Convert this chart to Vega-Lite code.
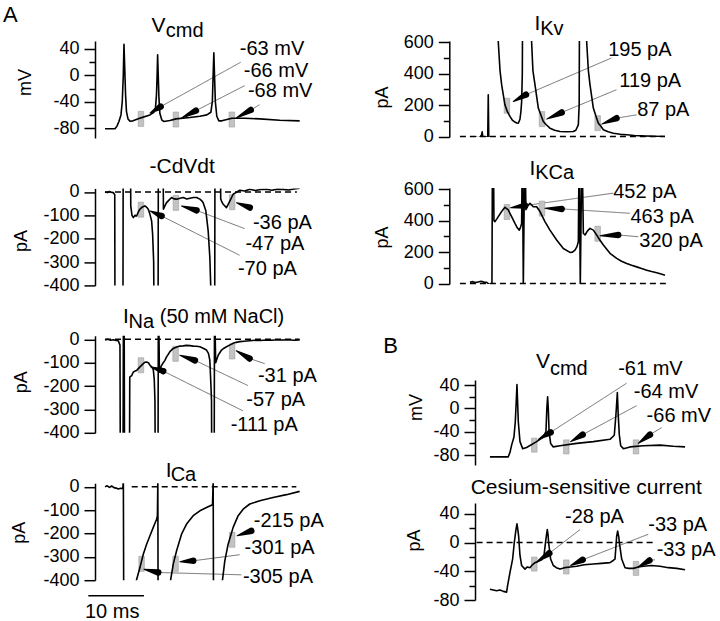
{
"$schema":"https://vega.github.io/schema/vega-lite/v6.json",
"background":"white",
"padding":{"left":3,"top":4,"right":5,"bottom":0},
"config":{"view":{"stroke":null},"font":"Liberation Sans",
"axis":{"domainColor":"black","domainWidth":1.5,"tickColor":"black","tickWidth":1.5,"labelColor":"black","labelFontSize":18,"labelPadding":5,"titleColor":"black","titleFontSize":18,"titleFontWeight":"normal","grid":false,"labelOverlap":false}},
"datasets":{
"traces":[
{"p":"A1","t":0,"v":-81},{"p":"A1","t":1.8,"v":-81},{"p":"A1","t":2.15,"v":-77},{"p":"A1","t":2.5,"v":-70},{"p":"A1","t":2.87,"v":-60},{"p":"A1","t":3.1,"v":-40},{"p":"A1","t":3.29,"v":0},{"p":"A1","t":3.41,"v":47},{"p":"A1","t":3.55,"v":10},{"p":"A1","t":3.7,"v":-30},{"p":"A1","t":3.86,"v":-55},{"p":"A1","t":4.13,"v":-66},{"p":"A1","t":4.49,"v":-69.5},{"p":"A1","t":5.03,"v":-69},{"p":"A1","t":6.46,"v":-64.5},{"p":"A1","t":8.08,"v":-60},{"p":"A1","t":8.8,"v":-56},{"p":"A1","t":9.07,"v":-50},{"p":"A1","t":9.25,"v":-30},{"p":"A1","t":9.37,"v":0},{"p":"A1","t":9.46,"v":31},{"p":"A1","t":9.57,"v":0},{"p":"A1","t":9.7,"v":-35},{"p":"A1","t":9.87,"v":-58},{"p":"A1","t":10.23,"v":-68},{"p":"A1","t":10.59,"v":-70},{"p":"A1","t":11.67,"v":-68.5},{"p":"A1","t":12.75,"v":-66},{"p":"A1","t":15.26,"v":-64},{"p":"A1","t":17.06,"v":-62},{"p":"A1","t":18.31,"v":-60},{"p":"A1","t":19.03,"v":-56},{"p":"A1","t":19.3,"v":-40},{"p":"A1","t":19.44,"v":0},{"p":"A1","t":19.57,"v":34},{"p":"A1","t":19.69,"v":0},{"p":"A1","t":19.84,"v":-40},{"p":"A1","t":20.1,"v":-62},{"p":"A1","t":20.47,"v":-69},{"p":"A1","t":21.0,"v":-69},{"p":"A1","t":22.8,"v":-65},{"p":"A1","t":25.13,"v":-65},{"p":"A1","t":27.83,"v":-66},{"p":"A1","t":31.42,"v":-68},{"p":"A1","t":35,"v":-69},
{"p":"A2","t":0,"v":0},{"p":"A2","t":0.4,"v":-3},{"p":"A2","t":0.8,"v":2},{"p":"A2","t":1.2,"v":-2},{"p":"A2","t":1.5,"v":-3},{"p":"A2","t":1.75,"v":-12},{"p":"A2","t":1.82,"v":-900},{"p":"A2","t":3.2,"v":-900},{"p":"A2","t":3.28,"v":300},{"p":"A2","t":4.56,"v":300},{"p":"A2","t":4.63,"v":-60},{"p":"A2","t":4.85,"v":-100},{"p":"A2","t":5.09,"v":-110},{"p":"A2","t":5.4,"v":-100},{"p":"A2","t":5.69,"v":-103},{"p":"A2","t":6.0,"v":-85},{"p":"A2","t":6.28,"v":-74},{"p":"A2","t":6.7,"v":-65},{"p":"A2","t":7.18,"v":-60},{"p":"A2","t":7.5,"v":-66},{"p":"A2","t":7.78,"v":-74},{"p":"A2","t":8.08,"v":-96},{"p":"A2","t":8.38,"v":-124},{"p":"A2","t":8.56,"v":-181},{"p":"A2","t":8.75,"v":-300},{"p":"A2","t":8.9,"v":-900},{"p":"A2","t":9.52,"v":-900},{"p":"A2","t":9.6,"v":300},{"p":"A2","t":10.42,"v":300},{"p":"A2","t":10.5,"v":-74},{"p":"A2","t":10.77,"v":-60},{"p":"A2","t":11.07,"v":-46},{"p":"A2","t":11.5,"v":-35},{"p":"A2","t":11.97,"v":-24},{"p":"A2","t":12.4,"v":-30},{"p":"A2","t":12.87,"v":-31},{"p":"A2","t":13.5,"v":-27},{"p":"A2","t":14.06,"v":-24},{"p":"A2","t":14.7,"v":-30},{"p":"A2","t":15.26,"v":-27},{"p":"A2","t":15.9,"v":-24},{"p":"A2","t":16.46,"v":-24},{"p":"A2","t":17.06,"v":-31},{"p":"A2","t":17.4,"v":-38},{"p":"A2","t":17.65,"v":-46},{"p":"A2","t":18.13,"v":-81},{"p":"A2","t":18.55,"v":-167},{"p":"A2","t":18.85,"v":-281},{"p":"A2","t":19.03,"v":-420},{"p":"A2","t":19.1,"v":-900},{"p":"A2","t":19.7,"v":-900},{"p":"A2","t":19.78,"v":300},{"p":"A2","t":20.72,"v":300},{"p":"A2","t":20.8,"v":-30},{"p":"A2","t":20.95,"v":-39},{"p":"A2","t":21.25,"v":-53},{"p":"A2","t":21.84,"v":-67},{"p":"A2","t":22.1,"v":-55},{"p":"A2","t":22.44,"v":-39},{"p":"A2","t":23.04,"v":-10},{"p":"A2","t":23.6,"v":-2},{"p":"A2","t":24.24,"v":7},{"p":"A2","t":25.1,"v":4},{"p":"A2","t":26.03,"v":11},{"p":"A2","t":27,"v":6},{"p":"A2","t":28,"v":10},{"p":"A2","t":29.03,"v":11},{"p":"A2","t":30,"v":7},{"p":"A2","t":31,"v":12},{"p":"A2","t":32,"v":11},{"p":"A2","t":33,"v":8},{"p":"A2","t":34,"v":13},{"p":"A2","t":35,"v":16},
{"p":"A3","t":0,"v":-3},{"p":"A3","t":0.5,"v":0},{"p":"A3","t":1.0,"v":-4},{"p":"A3","t":1.5,"v":-2},{"p":"A3","t":2.0,"v":-5},{"p":"A3","t":2.39,"v":-6},{"p":"A3","t":2.69,"v":-25},{"p":"A3","t":2.8,"v":-900},{"p":"A3","t":3.2,"v":-900},{"p":"A3","t":3.3,"v":30},{"p":"A3","t":3.45,"v":30},{"p":"A3","t":3.55,"v":-900},{"p":"A3","t":4.35,"v":-900},{"p":"A3","t":4.45,"v":-162},{"p":"A3","t":4.79,"v":-155},{"p":"A3","t":5.09,"v":-140},{"p":"A3","t":5.4,"v":-136},{"p":"A3","t":5.69,"v":-133},{"p":"A3","t":6.28,"v":-118},{"p":"A3","t":6.88,"v":-104},{"p":"A3","t":7.2,"v":-98},{"p":"A3","t":7.48,"v":-97},{"p":"A3","t":7.8,"v":-100},{"p":"A3","t":8.08,"v":-111},{"p":"A3","t":8.4,"v":-118},{"p":"A3","t":8.68,"v":-130},{"p":"A3","t":8.85,"v":-170},{"p":"A3","t":8.98,"v":-263},{"p":"A3","t":9.1,"v":-900},{"p":"A3","t":9.5,"v":-900},{"p":"A3","t":9.58,"v":30},{"p":"A3","t":9.7,"v":30},{"p":"A3","t":9.78,"v":-140},{"p":"A3","t":10.1,"v":-115},{"p":"A3","t":10.47,"v":-100},{"p":"A3","t":10.77,"v":-90},{"p":"A3","t":11.07,"v":-75},{"p":"A3","t":11.67,"v":-53},{"p":"A3","t":12.27,"v":-39},{"p":"A3","t":12.9,"v":-33},{"p":"A3","t":13.46,"v":-29},{"p":"A3","t":14.06,"v":-28},{"p":"A3","t":14.66,"v":-26},{"p":"A3","t":15.26,"v":-27},{"p":"A3","t":15.86,"v":-29},{"p":"A3","t":16.46,"v":-30},{"p":"A3","t":17.06,"v":-32},{"p":"A3","t":17.65,"v":-38},{"p":"A3","t":18.25,"v":-46},{"p":"A3","t":18.6,"v":-60},{"p":"A3","t":18.85,"v":-90},{"p":"A3","t":19.05,"v":-200},{"p":"A3","t":19.15,"v":-263},{"p":"A3","t":19.25,"v":-900},{"p":"A3","t":19.6,"v":-900},{"p":"A3","t":19.68,"v":30},{"p":"A3","t":19.8,"v":30},{"p":"A3","t":19.9,"v":-100},{"p":"A3","t":20.35,"v":-68},{"p":"A3","t":20.95,"v":-46},{"p":"A3","t":21.4,"v":-38},{"p":"A3","t":21.84,"v":-32},{"p":"A3","t":22.4,"v":-25},{"p":"A3","t":23.04,"v":-17},{"p":"A3","t":23.6,"v":-13},{"p":"A3","t":24.24,"v":-10},{"p":"A3","t":25,"v":-8},{"p":"A3","t":26,"v":-6},{"p":"A3","t":27,"v":-4},{"p":"A3","t":28,"v":-5},{"p":"A3","t":29,"v":-3},{"p":"A3","t":30,"v":-4},{"p":"A3","t":31,"v":-2},{"p":"A3","t":32,"v":-3},{"p":"A3","t":33,"v":-2},{"p":"A3","t":34,"v":-4},{"p":"A3","t":35,"v":-3},
{"p":"A4","t":0,"v":0},{"p":"A4","t":0.4,"v":4},{"p":"A4","t":0.8,"v":-3},{"p":"A4","t":1.2,"v":3},{"p":"A4","t":1.6,"v":-4},{"p":"A4","t":2.0,"v":-6},{"p":"A4","t":2.39,"v":-10},{"p":"A4","t":2.8,"v":-7},{"p":"A4","t":3.2,"v":-8},{"p":"A4","t":3.3,"v":25},{"p":"A4","t":3.41,"v":-900},{"p":"A4","t":5.55,"v":-900},{"p":"A4","t":5.65,"v":-400},{"p":"A4","t":6.28,"v":-346},{"p":"A4","t":6.88,"v":-289},{"p":"A4","t":7.48,"v":-246},{"p":"A4","t":8.08,"v":-210},{"p":"A4","t":8.68,"v":-174},{"p":"A4","t":9.28,"v":-139},{"p":"A4","t":9.42,"v":-125},{"p":"A4","t":9.5,"v":30},{"p":"A4","t":9.58,"v":-900},{"p":"A4","t":11.7,"v":-900},{"p":"A4","t":11.79,"v":-400},{"p":"A4","t":12.27,"v":-331},{"p":"A4","t":12.87,"v":-274},{"p":"A4","t":13.76,"v":-203},{"p":"A4","t":14.66,"v":-160},{"p":"A4","t":15.86,"v":-124},{"p":"A4","t":17.06,"v":-103},{"p":"A4","t":18.25,"v":-89},{"p":"A4","t":19.33,"v":-77},{"p":"A4","t":19.45,"v":30},{"p":"A4","t":19.55,"v":-900},{"p":"A4","t":21.05,"v":-900},{"p":"A4","t":21.12,"v":-400},{"p":"A4","t":21.54,"v":-317},{"p":"A4","t":22.14,"v":-246},{"p":"A4","t":23.04,"v":-174},{"p":"A4","t":23.94,"v":-124},{"p":"A4","t":24.84,"v":-96},{"p":"A4","t":26.03,"v":-74},{"p":"A4","t":27.83,"v":-60},{"p":"A4","t":30.22,"v":-46},{"p":"A4","t":32.62,"v":-34},{"p":"A4","t":35,"v":-20},
{"p":"IKv","s":"1","t":0,"v":-5},{"p":"IKv","s":"1","t":0.5,"v":-8},{"p":"IKv","s":"1","t":1.0,"v":-3},{"p":"IKv","s":"1","t":1.5,"v":-9},{"p":"IKv","s":"1","t":1.8,"v":-4},{"p":"IKv","s":"1","t":2.09,"v":10},{"p":"IKv","s":"1","t":2.2,"v":30},{"p":"IKv","s":"1","t":2.3,"v":-2},{"p":"IKv","s":"1","t":2.6,"v":-6},{"p":"IKv","s":"1","t":3.0,"v":-3},{"p":"IKv","s":"1","t":3.2,"v":-2},{"p":"IKv","s":"1","t":3.29,"v":266},{"p":"IKv","s":"1","t":3.38,"v":0},{"p":"IKv","s":"1","t":3.5,"v":-4},
{"p":"IKv","s":"2","t":5.0,"v":1200},{"p":"IKv","s":"2","t":5.09,"v":600},{"p":"IKv","s":"2","t":5.4,"v":420},{"p":"IKv","s":"2","t":5.69,"v":330},{"p":"IKv","s":"2","t":6.28,"v":202},{"p":"IKv","s":"2","t":6.7,"v":160},{"p":"IKv","s":"2","t":7.18,"v":128},{"p":"IKv","s":"2","t":7.6,"v":105},{"p":"IKv","s":"2","t":8.08,"v":92},{"p":"IKv","s":"2","t":8.4,"v":86},{"p":"IKv","s":"2","t":8.68,"v":85},{"p":"IKv","s":"2","t":8.98,"v":110},{"p":"IKv","s":"2","t":9.15,"v":160},{"p":"IKv","s":"2","t":9.28,"v":223},{"p":"IKv","s":"2","t":9.4,"v":400},{"p":"IKv","s":"2","t":9.5,"v":1200},{"p":"IKv","s":"2","t":11.0,"v":1200},{"p":"IKv","s":"2","t":11.07,"v":600},{"p":"IKv","s":"2","t":11.3,"v":420},{"p":"IKv","s":"2","t":11.67,"v":330},{"p":"IKv","s":"2","t":12.27,"v":181},{"p":"IKv","s":"2","t":12.7,"v":140},{"p":"IKv","s":"2","t":13.17,"v":96},{"p":"IKv","s":"2","t":13.7,"v":75},{"p":"IKv","s":"2","t":14.36,"v":53},{"p":"IKv","s":"2","t":15.2,"v":40},{"p":"IKv","s":"2","t":16.16,"v":32},{"p":"IKv","s":"2","t":17.4,"v":30},{"p":"IKv","s":"2","t":18.55,"v":32},{"p":"IKv","s":"2","t":19.0,"v":40},{"p":"IKv","s":"2","t":19.45,"v":74},{"p":"IKv","s":"2","t":19.6,"v":200},{"p":"IKv","s":"2","t":19.7,"v":1200},{"p":"IKv","s":"2","t":20.85,"v":1200},{"p":"IKv","s":"2","t":20.95,"v":600},{"p":"IKv","s":"2","t":21.25,"v":420},{"p":"IKv","s":"2","t":21.54,"v":330},{"p":"IKv","s":"2","t":22.14,"v":181},{"p":"IKv","s":"2","t":22.6,"v":130},{"p":"IKv","s":"2","t":23.04,"v":85},{"p":"IKv","s":"2","t":23.5,"v":65},{"p":"IKv","s":"2","t":23.94,"v":43},{"p":"IKv","s":"2","t":24.8,"v":30},{"p":"IKv","s":"2","t":25.73,"v":21},{"p":"IKv","s":"2","t":27,"v":14},{"p":"IKv","s":"2","t":28.13,"v":11},{"p":"IKv","s":"2","t":29.5,"v":7},{"p":"IKv","s":"2","t":31.12,"v":4},{"p":"IKv","s":"2","t":33,"v":2},{"p":"IKv","s":"2","t":35,"v":0},
{"p":"IKCa","t":0,"v":8},{"p":"IKCa","t":0.5,"v":12},{"p":"IKCa","t":1.0,"v":6},{"p":"IKCa","t":1.5,"v":10},{"p":"IKCa","t":2.0,"v":14},{"p":"IKCa","t":2.5,"v":9},{"p":"IKCa","t":2.99,"v":8},{"p":"IKCa","t":3.59,"v":-8},{"p":"IKCa","t":3.95,"v":-10},{"p":"IKCa","t":4.05,"v":900},{"p":"IKCa","t":4.2,"v":900},{"p":"IKCa","t":4.31,"v":400},{"p":"IKCa","t":4.49,"v":394},{"p":"IKCa","t":4.8,"v":410},{"p":"IKCa","t":5.09,"v":426},{"p":"IKCa","t":5.69,"v":458},{"p":"IKCa","t":6.28,"v":485},{"p":"IKCa","t":6.88,"v":468},{"p":"IKCa","t":7.48,"v":426},{"p":"IKCa","t":8.08,"v":383},{"p":"IKCa","t":8.5,"v":355},{"p":"IKCa","t":8.86,"v":340},{"p":"IKCa","t":9.1,"v":360},{"p":"IKCa","t":9.28,"v":383},{"p":"IKCa","t":9.4,"v":900},{"p":"IKCa","t":9.58,"v":-15},{"p":"IKCa","t":9.85,"v":900},{"p":"IKCa","t":10.05,"v":470},{"p":"IKCa","t":10.47,"v":500},{"p":"IKCa","t":10.77,"v":511},{"p":"IKCa","t":11.37,"v":489},{"p":"IKCa","t":11.97,"v":489},{"p":"IKCa","t":12.57,"v":458},{"p":"IKCa","t":13.46,"v":394},{"p":"IKCa","t":14.36,"v":340},{"p":"IKCa","t":15.56,"v":277},{"p":"IKCa","t":16.76,"v":223},{"p":"IKCa","t":17.95,"v":198},{"p":"IKCa","t":18.4,"v":200},{"p":"IKCa","t":18.85,"v":213},{"p":"IKCa","t":19.2,"v":235},{"p":"IKCa","t":19.45,"v":266},{"p":"IKCa","t":19.6,"v":900},{"p":"IKCa","t":19.8,"v":-15},{"p":"IKCa","t":20.1,"v":900},{"p":"IKCa","t":20.35,"v":320},{"p":"IKCa","t":20.65,"v":309},{"p":"IKCa","t":21.1,"v":335},{"p":"IKCa","t":21.54,"v":351},{"p":"IKCa","t":22.14,"v":340},{"p":"IKCa","t":22.74,"v":309},{"p":"IKCa","t":23.34,"v":275},{"p":"IKCa","t":23.94,"v":245},{"p":"IKCa","t":25.13,"v":192},{"p":"IKCa","t":26.33,"v":160},{"p":"IKCa","t":27.2,"v":142},{"p":"IKCa","t":28.13,"v":128},{"p":"IKCa","t":29.0,"v":116},{"p":"IKCa","t":29.92,"v":106},{"p":"IKCa","t":30.8,"v":95},{"p":"IKCa","t":31.72,"v":85},{"p":"IKCa","t":32.6,"v":76},{"p":"IKCa","t":33.52,"v":68},{"p":"IKCa","t":34.3,"v":60},{"p":"IKCa","t":35,"v":53},
{"p":"BV","t":3.59,"v":-83},{"p":"BV","t":6.88,"v":-83},{"p":"BV","t":7.2,"v":-75},{"p":"BV","t":7.48,"v":-63},{"p":"BV","t":7.9,"v":-49},{"p":"BV","t":8.14,"v":-23},{"p":"BV","t":8.3,"v":10},{"p":"BV","t":8.44,"v":41},{"p":"BV","t":8.56,"v":10},{"p":"BV","t":8.68,"v":-23},{"p":"BV","t":8.98,"v":-57},{"p":"BV","t":9.46,"v":-69},{"p":"BV","t":10.17,"v":-67},{"p":"BV","t":11.97,"v":-57},{"p":"BV","t":13.17,"v":-49},{"p":"BV","t":13.64,"v":-40},{"p":"BV","t":13.8,"v":0},{"p":"BV","t":13.94,"v":20},{"p":"BV","t":14.06,"v":0},{"p":"BV","t":14.2,"v":-40},{"p":"BV","t":14.48,"v":-60},{"p":"BV","t":14.96,"v":-66},{"p":"BV","t":16.16,"v":-64},{"p":"BV","t":19.15,"v":-60},{"p":"BV","t":22.14,"v":-57},{"p":"BV","t":25.13,"v":-53},{"p":"BV","t":25.9,"v":-46},{"p":"BV","t":26.2,"v":-10},{"p":"BV","t":26.45,"v":27},{"p":"BV","t":26.6,"v":-10},{"p":"BV","t":26.8,"v":-45},{"p":"BV","t":27.05,"v":-64},{"p":"BV","t":27.53,"v":-69},{"p":"BV","t":28.73,"v":-66},{"p":"BV","t":31.12,"v":-64},{"p":"BV","t":34.11,"v":-63},{"p":"BV","t":36.5,"v":-65},{"p":"BV","t":38.6,"v":-66},
{"p":"Cs","t":3.59,"v":-65},{"p":"Cs","t":4.2,"v":-66},{"p":"Cs","t":4.79,"v":-67},{"p":"Cs","t":5.4,"v":-66},{"p":"Cs","t":6.0,"v":-68},{"p":"Cs","t":6.58,"v":-69},{"p":"Cs","t":6.76,"v":-60},{"p":"Cs","t":7.18,"v":-42},{"p":"Cs","t":7.66,"v":-23},{"p":"Cs","t":7.96,"v":0},{"p":"Cs","t":8.26,"v":18},{"p":"Cs","t":8.44,"v":26},{"p":"Cs","t":8.56,"v":20},{"p":"Cs","t":8.74,"v":9},{"p":"Cs","t":8.98,"v":-18},{"p":"Cs","t":9.28,"v":-32},{"p":"Cs","t":9.87,"v":-37},{"p":"Cs","t":10.3,"v":-34},{"p":"Cs","t":10.77,"v":-35},{"p":"Cs","t":11.2,"v":-31},{"p":"Cs","t":11.67,"v":-28},{"p":"Cs","t":12.1,"v":-27},{"p":"Cs","t":12.57,"v":-25},{"p":"Cs","t":12.9,"v":-24},{"p":"Cs","t":13.29,"v":-18},{"p":"Cs","t":13.64,"v":5},{"p":"Cs","t":13.88,"v":18},{"p":"Cs","t":14.0,"v":12},{"p":"Cs","t":14.12,"v":0},{"p":"Cs","t":14.48,"v":-23},{"p":"Cs","t":14.96,"v":-32},{"p":"Cs","t":15.5,"v":-35},{"p":"Cs","t":16.16,"v":-37},{"p":"Cs","t":17.0,"v":-35},{"p":"Cs","t":18.0,"v":-34},{"p":"Cs","t":19.15,"v":-33},{"p":"Cs","t":20.5,"v":-31},{"p":"Cs","t":22.14,"v":-30},{"p":"Cs","t":23.6,"v":-29},{"p":"Cs","t":25.13,"v":-28},{"p":"Cs","t":25.7,"v":-25},{"p":"Cs","t":26.03,"v":-23},{"p":"Cs","t":26.33,"v":9},{"p":"Cs","t":26.51,"v":16},{"p":"Cs","t":26.7,"v":8},{"p":"Cs","t":26.81,"v":0},{"p":"Cs","t":27.23,"v":-23},{"p":"Cs","t":27.83,"v":-35},{"p":"Cs","t":28.5,"v":-36},{"p":"Cs","t":29.32,"v":-36},{"p":"Cs","t":30.2,"v":-34},{"p":"Cs","t":31.12,"v":-33},{"p":"Cs","t":32.6,"v":-32},{"p":"Cs","t":34.11,"v":-33},{"p":"Cs","t":35.6,"v":-35},{"p":"Cs","t":37.1,"v":-36},{"p":"Cs","t":38.6,"v":-38}
],
"boxes":[
{"p":"A1","t":6.46,"v":-66},{"p":"A1","t":12.75,"v":-67},{"p":"A1","t":22.8,"v":-67},
{"p":"A2","t":6.46,"v":-76},{"p":"A2","t":12.75,"v":-47},{"p":"A2","t":22.86,"v":-44},
{"p":"A3","t":6.46,"v":-111},{"p":"A3","t":12.69,"v":-62},{"p":"A3","t":22.86,"v":-52},
{"p":"A4","t":6.58,"v":-330},{"p":"A4","t":12.69,"v":-330},{"p":"A4","t":22.86,"v":-227},
{"p":"IKv","t":6.64,"v":196},{"p":"IKv","t":12.93,"v":111},{"p":"IKv","t":22.92,"v":85},
{"p":"IKCa","t":6.64,"v":455},{"p":"IKCa","t":12.93,"v":477},{"p":"IKCa","t":22.92,"v":317},
{"p":"BV","t":11.55,"v":-63},{"p":"BV","t":17.29,"v":-66},{"p":"BV","t":29.8,"v":-66},
{"p":"Cs","t":11.55,"v":-30},{"p":"Cs","t":17.29,"v":-34},{"p":"Cs","t":29.8,"v":-36}
],
"arrows":[
{"p":"A1","id":"1","r":"tip","t":8.08,"v":-57.2},{"p":"A1","id":"1","r":"base","t":10.0,"v":-47.5},{"p":"A1","id":"2","r":"tip","t":13.77,"v":-64.7},{"p":"A1","id":"2","r":"base","t":16.34,"v":-53.6},{"p":"A1","id":"3","r":"tip","t":23.6,"v":-64.7},{"p":"A1","id":"3","r":"base","t":26.2,"v":-52.6},
{"p":"A2","id":"1","r":"tip","t":8.08,"v":-81},{"p":"A2","id":"1","r":"base","t":10.17,"v":-103},{"p":"A2","id":"2","r":"tip","t":13.76,"v":-60},{"p":"A2","id":"2","r":"base","t":16.46,"v":-79},{"p":"A2","id":"3","r":"tip","t":23.64,"v":-46},{"p":"A2","id":"3","r":"base","t":26.03,"v":-67},
{"p":"A3","id":"1","r":"tip","t":8.2,"v":-118},{"p":"A3","id":"1","r":"base","t":10.47,"v":-136},{"p":"A3","id":"2","r":"tip","t":13.46,"v":-68},{"p":"A3","id":"2","r":"base","t":16.16,"v":-90},{"p":"A3","id":"3","r":"tip","t":23.6,"v":-49},{"p":"A3","id":"3","r":"base","t":26.0,"v":-82},
{"p":"A4","id":"1","r":"tip","t":7.0,"v":-353},{"p":"A4","id":"1","r":"base","t":9.57,"v":-367},{"p":"A4","id":"2","r":"tip","t":13.46,"v":-321},{"p":"A4","id":"2","r":"base","t":15.86,"v":-317},{"p":"A4","id":"3","r":"tip","t":23.76,"v":-210},{"p":"A4","id":"3","r":"base","t":26.3,"v":-189},
{"p":"IKv","id":"1","r":"tip","t":7.78,"v":223},{"p":"IKv","id":"1","r":"base","t":10.05,"v":266},{"p":"IKv","id":"2","r":"tip","t":13.76,"v":111},{"p":"IKv","id":"2","r":"base","t":16.46,"v":153},{"p":"IKv","id":"3","r":"tip","t":23.64,"v":79},{"p":"IKv","id":"3","r":"base","t":26.3,"v":117},
{"p":"IKCa","id":"1","r":"tip","t":7.3,"v":483},{"p":"IKCa","id":"1","r":"base","t":9.87,"v":496},{"p":"IKCa","id":"2","r":"tip","t":13.46,"v":479},{"p":"IKCa","id":"2","r":"base","t":16.46,"v":475},{"p":"IKCa","id":"3","r":"tip","t":23.34,"v":304},{"p":"IKCa","id":"3","r":"base","t":26.6,"v":309},
{"p":"BV","id":"1","r":"tip","t":12.27,"v":-53},{"p":"BV","id":"1","r":"base","t":14.48,"v":-41},{"p":"BV","id":"2","r":"tip","t":18.07,"v":-57},{"p":"BV","id":"2","r":"base","t":20.23,"v":-45},{"p":"BV","id":"3","r":"tip","t":30.2,"v":-60},{"p":"BV","id":"3","r":"base","t":32.3,"v":-45},
{"p":"Cs","id":"1","r":"tip","t":11.97,"v":-27},{"p":"Cs","id":"1","r":"base","t":14.24,"v":-15},{"p":"Cs","id":"2","r":"tip","t":18.07,"v":-32},{"p":"Cs","id":"2","r":"base","t":20.23,"v":-24},{"p":"Cs","id":"3","r":"tip","t":30.2,"v":-34},{"p":"Cs","id":"3","r":"base","t":32.2,"v":-25}
],
"rules":[
{"p":"A1","k":"ann","t":10.0,"v":-47.5,"t2":24.4,"v2":19.8},{"p":"A1","k":"ann","t":16.34,"v":-53.6,"t2":25.1,"v2":-15.7},{"p":"A1","k":"ann","t":26.2,"v":-52.6,"t2":27.8,"v2":-44.5},
{"p":"A2","k":"zero","t":0,"v":0,"t2":34.5,"v2":0},{"p":"A2","k":"ann","t":10.17,"v":-103,"t2":24.2,"v2":-271},{"p":"A2","k":"ann","t":16.46,"v":-79,"t2":25.1,"v2":-157},
{"p":"A3","k":"zero","t":0,"v":0,"t2":35,"v2":0},{"p":"A3","k":"ann","t":10.47,"v":-136,"t2":24.8,"v2":-306},{"p":"A3","k":"ann","t":16.16,"v":-90,"t2":25.7,"v2":-198},{"p":"A3","k":"ann","t":26.0,"v":-82,"t2":28.7,"v2":-104},
{"p":"A4","k":"zero","t":4.8,"v":0,"t2":34.4,"v2":0},{"p":"A4","k":"ann","t":9.57,"v":-367,"t2":24.5,"v2":-377},{"p":"A4","k":"ann","t":15.86,"v":-317,"t2":24.2,"v2":-291},{"p":"A4","k":"bar","t":-3.0,"v":-466,"t2":7.0,"v2":-466},
{"p":"IKv","k":"zero","t":-1.8,"v":0,"t2":35,"v2":0},{"p":"IKv","k":"ann","t":10.05,"v":266,"t2":25.4,"v2":500},{"p":"IKv","k":"ann","t":16.46,"v":153,"t2":26.3,"v2":298},{"p":"IKv","k":"ann","t":26.3,"v":117,"t2":29.9,"v2":138},
{"p":"IKCa","k":"zero","t":-1.8,"v":0,"t2":35.3,"v2":0},{"p":"IKCa","k":"ann","t":9.87,"v":496,"t2":25.7,"v2":575},{"p":"IKCa","k":"ann","t":16.46,"v":475,"t2":28.7,"v2":447},{"p":"IKCa","k":"ann","t":26.6,"v":309,"t2":30.2,"v2":298},
{"p":"BV","k":"ann","t":14.48,"v":-41,"t2":28.1,"v2":43},{"p":"BV","k":"ann","t":20.23,"v":-45,"t2":29.9,"v2":4.6},{"p":"BV","k":"ann","t":32.3,"v":-45,"t2":34.4,"v2":-33},
{"p":"Cs","k":"zero","t":1.2,"v":0,"t2":32.9,"v2":0},{"p":"Cs","k":"ann","t":14.24,"v":-15,"t2":19.75,"v2":18},{"p":"Cs","k":"ann","t":20.23,"v":-24,"t2":32.0,"v2":11.5},{"p":"Cs","k":"ann","t":32.2,"v":-25,"t2":33.2,"v2":-24}
],
"labels":[
{"p":"A1","k":"letter","t":-18.34,"v":80.3,"txt":"A"},{"p":"A1","k":"title","t":8.38,"v":65.1,"txt":"V"},{"p":"A1","k":"sub","t":10.93,"v":57.5,"txt":"cmd"},{"p":"A1","k":"note","t":24.24,"v":31.4,"txt":"-63 mV"},{"p":"A1","k":"note","t":24.96,"v":-3,"txt":"-66 mV"},{"p":"A1","k":"note","t":25.7,"v":-33.4,"txt":"-68 mV"},
{"p":"A2","k":"title","t":8.0,"v":79,"txt":"-CdVdt"},{"p":"A2","k":"note","t":26.6,"v":-160,"txt":"-36 pA"},{"p":"A2","k":"note","t":25.25,"v":-249,"txt":"-47 pA"},{"p":"A2","k":"note","t":23.9,"v":-356,"txt":"-70 pA"},
{"p":"A3","k":"title","t":3.23,"v":69,"txt":"I"},{"p":"A3","k":"sub","t":4.22,"v":48,"txt":"Na"},{"p":"A3","k":"sub","t":9.84,"v":69,"txt":"(50 mM NaCl)"},{"p":"A3","k":"note","t":27.5,"v":-183,"txt":"-31 pA"},{"p":"A3","k":"note","t":25.4,"v":-284,"txt":"-57 pA"},{"p":"A3","k":"note","t":22.6,"v":-393,"txt":"-111 pA"},
{"p":"A4","k":"title","t":10.9,"v":40,"txt":"I"},{"p":"A4","k":"sub","t":11.8,"v":23,"txt":"Ca"},{"p":"A4","k":"note","t":26.75,"v":-171,"txt":"-215 pA"},{"p":"A4","k":"note","t":25.1,"v":-289,"txt":"-301 pA"},{"p":"A4","k":"note","t":24.8,"v":-410,"txt":"-305 pA"},{"p":"A4","k":"note","t":-3.6,"v":-561,"txt":"10 ms"},
{"p":"IKv","k":"title","t":11.6,"v":681,"txt":"I"},{"p":"IKv","k":"sub","t":12.6,"v":649,"txt":"Kv"},{"p":"IKv","k":"note","t":24.8,"v":511,"txt":"195 pA"},{"p":"IKv","k":"note","t":26.8,"v":313,"txt":"119 pA"},{"p":"IKv","k":"note","t":30.0,"v":128,"txt":"87 pA"},
{"p":"IKCa","k":"title","t":10.7,"v":692,"txt":"I"},{"p":"IKCa","k":"sub","t":11.7,"v":666,"txt":"KCa"},{"p":"IKCa","k":"note","t":25.7,"v":543,"txt":"452 pA"},{"p":"IKCa","k":"note","t":28.8,"v":383,"txt":"463 pA"},{"p":"IKCa","k":"note","t":30.4,"v":234,"txt":"320 pA"},
{"p":"BV","k":"letter","t":-15.55,"v":94.2,"txt":"B"},{"p":"BV","k":"title","t":11.85,"v":68.5,"txt":"V"},{"p":"BV","k":"sub","t":14.35,"v":57,"txt":"cmd"},{"p":"BV","k":"note","t":26.6,"v":57,"txt":"-61 mV"},{"p":"BV","k":"note","t":29.4,"v":18,"txt":"-64 mV"},{"p":"BV","k":"note","t":31.7,"v":-23,"txt":"-66 mV"},
{"p":"Cs","k":"title","t":0.13,"v":67,"txt":"Cesium-sensitive current"},{"p":"Cs","k":"note","t":17.06,"v":26.7,"txt":"-28 pA"},{"p":"Cs","k":"note","t":32.0,"v":16.2,"txt":"-33 pA"},{"p":"Cs","k":"note","t":33.5,"v":-18.4,"txt":"-33 pA"}
]
},
"hconcat":[
{"vconcat":[
{"width":208,"height":97,
"encoding":{"x":{"field":"t","type":"quantitative","scale":{"domain":[-1.8,35.6],"nice":false,"zero":false},"axis":null},
"y":{"field":"v","type":"quantitative","scale":{"domain":[-95,52],"nice":false,"zero":false},"axis":{"title":"mV","values":[-80,-60,-40,-20,0,20,40],"labelExpr":"datum.value % 40 === 0 ? '' + datum.value : ''","tickSize":{"condition":{"test":"datum.value % 40 === 0","value":11},"value":6},"titleX":-61,"titleY":41}}},
"layer":[
{"data":{"name":"rules"},"transform":[{"filter":"datum.p==='A1'"}],"mark":{"type":"rule"},"encoding":{"x2":{"field":"t2"},"y2":{"field":"v2"},"color":{"condition":{"test":"datum.k==='ann'","value":"#4d4d4d"},"value":"black"},"strokeWidth":{"condition":{"test":"datum.k==='ann'","value":0.8},"value":1.5},"strokeDash":{"condition":{"test":"datum.k==='zero'","value":[6,4]},"value":[1,0]}}},
{"data":{"name":"boxes"},"transform":[{"filter":"datum.p==='A1'"}],"mark":{"type":"tick","orient":"vertical","thickness":5.5,"size":15,"color":"#c3c3c3","opacity":1,"stroke":"#9c9c9c","strokeWidth":0.6}},
{"data":{"name":"traces"},"transform":[{"filter":"datum.p==='A1'"}],"mark":{"type":"line","color":"black","strokeWidth":1.6,"clip":true,"strokeJoin":"round"},"encoding":{"detail":{"field":"s","type":"nominal"}}},
{"data":{"name":"arrows"},"transform":[{"filter":"datum.p==='A1'"}],"mark":{"type":"trail","color":"black"},"encoding":{"detail":{"field":"id","type":"nominal"},"size":{"condition":{"test":"datum.r==='tip'","value":0},"value":6.5}}},
{"data":{"name":"labels"},"transform":[{"filter":"datum.p==='A1'"}],"mark":{"type":"text","align":"left","baseline":"alphabetic","color":"black"},"encoding":{"text":{"field":"txt","type":"nominal"},"size":{"condition":[{"test":"datum.k==='title'","value":21},{"test":"datum.k==='letter'","value":22}],"value":20}}}
]},
{"width":208,"height":97,
"encoding":{"x":{"field":"t","type":"quantitative","scale":{"domain":[-1.8,35.6],"nice":false,"zero":false},"axis":null},
"y":{"field":"v","type":"quantitative","scale":{"domain":[-400,15],"nice":false,"zero":false},"axis":{"title":"pA","values":[-400,-300,-200,-100,0],"labelExpr":"'' + datum.value","tickSize":11,"titleX":-65,"titleY":52}}},
"layer":[
{"data":{"name":"rules"},"transform":[{"filter":"datum.p==='A2'"}],"mark":{"type":"rule"},"encoding":{"x2":{"field":"t2"},"y2":{"field":"v2"},"color":{"condition":{"test":"datum.k==='ann'","value":"#4d4d4d"},"value":"black"},"strokeWidth":{"condition":{"test":"datum.k==='ann'","value":0.8},"value":1.5},"strokeDash":{"condition":{"test":"datum.k==='zero'","value":[6,4]},"value":[1,0]}}},
{"data":{"name":"boxes"},"transform":[{"filter":"datum.p==='A2'"}],"mark":{"type":"tick","orient":"vertical","thickness":5.5,"size":15,"color":"#c3c3c3","opacity":1,"stroke":"#9c9c9c","strokeWidth":0.6}},
{"data":{"name":"traces"},"transform":[{"filter":"datum.p==='A2'"}],"mark":{"type":"line","color":"black","strokeWidth":1.6,"clip":true,"strokeJoin":"round"},"encoding":{"detail":{"field":"s","type":"nominal"}}},
{"data":{"name":"arrows"},"transform":[{"filter":"datum.p==='A2'"}],"mark":{"type":"trail","color":"black"},"encoding":{"detail":{"field":"id","type":"nominal"},"size":{"condition":{"test":"datum.r==='tip'","value":0},"value":6.5}}},
{"data":{"name":"labels"},"transform":[{"filter":"datum.p==='A2'"}],"mark":{"type":"text","align":"left","baseline":"alphabetic","color":"black"},"encoding":{"text":{"field":"txt","type":"nominal"},"size":{"condition":[{"test":"datum.k==='title'","value":21},{"test":"datum.k==='letter'","value":22}],"value":20}}}
]},
{"width":208,"height":97,
"encoding":{"x":{"field":"t","type":"quantitative","scale":{"domain":[-1.8,35.6],"nice":false,"zero":false},"axis":null},
"y":{"field":"v","type":"quantitative","scale":{"domain":[-400,15],"nice":false,"zero":false},"axis":{"title":"pA","values":[-400,-300,-200,-100,0],"labelExpr":"'' + datum.value","tickSize":11,"titleX":-65,"titleY":46}}},
"layer":[
{"data":{"name":"rules"},"transform":[{"filter":"datum.p==='A3'"}],"mark":{"type":"rule"},"encoding":{"x2":{"field":"t2"},"y2":{"field":"v2"},"color":{"condition":{"test":"datum.k==='ann'","value":"#4d4d4d"},"value":"black"},"strokeWidth":{"condition":{"test":"datum.k==='ann'","value":0.8},"value":1.5},"strokeDash":{"condition":{"test":"datum.k==='zero'","value":[6,4]},"value":[1,0]}}},
{"data":{"name":"boxes"},"transform":[{"filter":"datum.p==='A3'"}],"mark":{"type":"tick","orient":"vertical","thickness":5.5,"size":15,"color":"#c3c3c3","opacity":1,"stroke":"#9c9c9c","strokeWidth":0.6}},
{"data":{"name":"traces"},"transform":[{"filter":"datum.p==='A3'"}],"mark":{"type":"line","color":"black","strokeWidth":1.6,"clip":true,"strokeJoin":"round"},"encoding":{"detail":{"field":"s","type":"nominal"}}},
{"data":{"name":"arrows"},"transform":[{"filter":"datum.p==='A3'"}],"mark":{"type":"trail","color":"black"},"encoding":{"detail":{"field":"id","type":"nominal"},"size":{"condition":{"test":"datum.r==='tip'","value":0},"value":6.5}}},
{"data":{"name":"labels"},"transform":[{"filter":"datum.p==='A3'"}],"mark":{"type":"text","align":"left","baseline":"alphabetic","color":"black"},"encoding":{"text":{"field":"txt","type":"nominal"},"size":{"condition":[{"test":"datum.k==='title'","value":21},{"test":"datum.k==='letter'","value":22}],"value":20}}}
]},
{"width":208,"height":97,
"encoding":{"x":{"field":"t","type":"quantitative","scale":{"domain":[-1.8,35.6],"nice":false,"zero":false},"axis":null},
"y":{"field":"v","type":"quantitative","scale":{"domain":[-400,15],"nice":false,"zero":false},"axis":{"title":"pA","values":[-400,-300,-200,-100,0],"labelExpr":"'' + datum.value","tickSize":11,"titleX":-67,"titleY":49}}},
"layer":[
{"data":{"name":"rules"},"transform":[{"filter":"datum.p==='A4'"}],"mark":{"type":"rule"},"encoding":{"x2":{"field":"t2"},"y2":{"field":"v2"},"color":{"condition":{"test":"datum.k==='ann'","value":"#4d4d4d"},"value":"black"},"strokeWidth":{"condition":{"test":"datum.k==='ann'","value":0.8},"value":1.5},"strokeDash":{"condition":{"test":"datum.k==='zero'","value":[6,4]},"value":[1,0]}}},
{"data":{"name":"boxes"},"transform":[{"filter":"datum.p==='A4'"}],"mark":{"type":"tick","orient":"vertical","thickness":5.5,"size":15,"color":"#c3c3c3","opacity":1,"stroke":"#9c9c9c","strokeWidth":0.6}},
{"data":{"name":"traces"},"transform":[{"filter":"datum.p==='A4'"}],"mark":{"type":"line","color":"black","strokeWidth":1.6,"clip":true,"strokeJoin":"round"},"encoding":{"detail":{"field":"s","type":"nominal"}}},
{"data":{"name":"arrows"},"transform":[{"filter":"datum.p==='A4'"}],"mark":{"type":"trail","color":"black"},"encoding":{"detail":{"field":"id","type":"nominal"},"size":{"condition":{"test":"datum.r==='tip'","value":0},"value":6.5}}},
{"data":{"name":"labels"},"transform":[{"filter":"datum.p==='A4'"}],"mark":{"type":"text","align":"left","baseline":"alphabetic","color":"black"},"encoding":{"text":{"field":"txt","type":"nominal"},"size":{"condition":[{"test":"datum.k==='title'","value":21},{"test":"datum.k==='letter'","value":22}],"value":20}}}
]}
],"spacing":50.4,"bounds":"flush"},
{"vconcat":[
{"width":238,"height":96,
"encoding":{"x":{"field":"t","type":"quantitative","scale":{"domain":[-3.7,39],"nice":false,"zero":false},"axis":null},
"y":{"field":"v","type":"quantitative","scale":{"domain":[-3,608],"nice":false,"zero":false},"axis":{"title":"pA","values":[0,100,200,300,400,500,600],"labelExpr":"datum.value % 200 === 0 ? '' + datum.value : ''","tickSize":{"condition":{"test":"datum.value % 200 === 0","value":11},"value":6},"titleX":-57.6,"titleY":56}}},
"layer":[
{"data":{"name":"rules"},"transform":[{"filter":"datum.p==='IKv'"}],"mark":{"type":"rule"},"encoding":{"x2":{"field":"t2"},"y2":{"field":"v2"},"color":{"condition":{"test":"datum.k==='ann'","value":"#4d4d4d"},"value":"black"},"strokeWidth":{"condition":{"test":"datum.k==='ann'","value":0.8},"value":1.5},"strokeDash":{"condition":{"test":"datum.k==='zero'","value":[6,4]},"value":[1,0]}}},
{"data":{"name":"boxes"},"transform":[{"filter":"datum.p==='IKv'"}],"mark":{"type":"tick","orient":"vertical","thickness":5.5,"size":15,"color":"#c3c3c3","opacity":1,"stroke":"#9c9c9c","strokeWidth":0.6}},
{"data":{"name":"traces"},"transform":[{"filter":"datum.p==='IKv'"}],"mark":{"type":"line","color":"black","strokeWidth":1.6,"clip":true,"strokeJoin":"round"},"encoding":{"detail":{"field":"s","type":"nominal"}}},
{"data":{"name":"arrows"},"transform":[{"filter":"datum.p==='IKv'"}],"mark":{"type":"trail","color":"black"},"encoding":{"detail":{"field":"id","type":"nominal"},"size":{"condition":{"test":"datum.r==='tip'","value":0},"value":6.5}}},
{"data":{"name":"labels"},"transform":[{"filter":"datum.p==='IKv'"}],"mark":{"type":"text","align":"left","baseline":"alphabetic","color":"black"},"encoding":{"text":{"field":"txt","type":"nominal"},"size":{"condition":[{"test":"datum.k==='title'","value":21},{"test":"datum.k==='letter'","value":22}],"value":20}}}
]},
{"width":238,"height":50.7,"data":{"values":[]},"mark":"point"},
{"width":238,"height":96,
"encoding":{"x":{"field":"t","type":"quantitative","scale":{"domain":[-3.7,39],"nice":false,"zero":false},"axis":null},
"y":{"field":"v","type":"quantitative","scale":{"domain":[-3,608],"nice":false,"zero":false},"axis":{"title":"pA","values":[0,100,200,300,400,500,600],"labelExpr":"datum.value % 200 === 0 ? '' + datum.value : ''","tickSize":{"condition":{"test":"datum.value % 200 === 0","value":11},"value":6},"titleX":-57.6,"titleY":49}}},
"layer":[
{"data":{"name":"rules"},"transform":[{"filter":"datum.p==='IKCa'"}],"mark":{"type":"rule"},"encoding":{"x2":{"field":"t2"},"y2":{"field":"v2"},"color":{"condition":{"test":"datum.k==='ann'","value":"#4d4d4d"},"value":"black"},"strokeWidth":{"condition":{"test":"datum.k==='ann'","value":0.8},"value":1.5},"strokeDash":{"condition":{"test":"datum.k==='zero'","value":[6,4]},"value":[1,0]}}},
{"data":{"name":"boxes"},"transform":[{"filter":"datum.p==='IKCa'"}],"mark":{"type":"tick","orient":"vertical","thickness":5.5,"size":15,"color":"#c3c3c3","opacity":1,"stroke":"#9c9c9c","strokeWidth":0.6}},
{"data":{"name":"traces"},"transform":[{"filter":"datum.p==='IKCa'"}],"mark":{"type":"line","color":"black","strokeWidth":1.6,"clip":true,"strokeJoin":"round"},"encoding":{"detail":{"field":"s","type":"nominal"}}},
{"data":{"name":"arrows"},"transform":[{"filter":"datum.p==='IKCa'"}],"mark":{"type":"trail","color":"black"},"encoding":{"detail":{"field":"id","type":"nominal"},"size":{"condition":{"test":"datum.r==='tip'","value":0},"value":6.5}}},
{"data":{"name":"labels"},"transform":[{"filter":"datum.p==='IKCa'"}],"mark":{"type":"text","align":"left","baseline":"alphabetic","color":"black"},"encoding":{"text":{"field":"txt","type":"nominal"},"size":{"condition":[{"test":"datum.k==='title'","value":21},{"test":"datum.k==='letter'","value":22}],"value":20}}}
]},
{"width":238,"height":95.9,"data":{"values":[]},"mark":"point"},
{"width":238,"height":85,
"encoding":{"x":{"field":"t","type":"quantitative","scale":{"domain":[-3.7,39],"nice":false,"zero":false},"axis":null},
"y":{"field":"v","type":"quantitative","scale":{"domain":[-97,48.6],"nice":false,"zero":false},"axis":{"title":"mV","offset":-25.7,"values":[-80,-60,-40,-20,0,20,40],"labelExpr":"datum.value % 40 === 0 ? '' + datum.value : ''","tickSize":{"condition":{"test":"datum.value % 40 === 0","value":11},"value":6},"titleX":-49.5,"titleY":27}}},
"layer":[
{"data":{"name":"rules"},"transform":[{"filter":"datum.p==='BV'"}],"mark":{"type":"rule"},"encoding":{"x2":{"field":"t2"},"y2":{"field":"v2"},"color":{"condition":{"test":"datum.k==='ann'","value":"#4d4d4d"},"value":"black"},"strokeWidth":{"condition":{"test":"datum.k==='ann'","value":0.8},"value":1.5},"strokeDash":{"condition":{"test":"datum.k==='zero'","value":[6,4]},"value":[1,0]}}},
{"data":{"name":"boxes"},"transform":[{"filter":"datum.p==='BV'"}],"mark":{"type":"tick","orient":"vertical","thickness":5.5,"size":14,"color":"#c3c3c3","opacity":1,"stroke":"#9c9c9c","strokeWidth":0.6}},
{"data":{"name":"traces"},"transform":[{"filter":"datum.p==='BV'"}],"mark":{"type":"line","color":"black","strokeWidth":1.6,"clip":true,"strokeJoin":"round"},"encoding":{"detail":{"field":"s","type":"nominal"}}},
{"data":{"name":"arrows"},"transform":[{"filter":"datum.p==='BV'"}],"mark":{"type":"trail","color":"black"},"encoding":{"detail":{"field":"id","type":"nominal"},"size":{"condition":{"test":"datum.r==='tip'","value":0},"value":6.5}}},
{"data":{"name":"labels"},"transform":[{"filter":"datum.p==='BV'"}],"mark":{"type":"text","align":"left","baseline":"alphabetic","color":"black"},"encoding":{"text":{"field":"txt","type":"nominal"},"size":{"condition":[{"test":"datum.k==='title'","value":21},{"test":"datum.k==='letter'","value":22}],"value":20}}}
]},
{"width":238,"height":37.4,"data":{"values":[]},"mark":"point"},
{"width":238,"height":97,
"encoding":{"x":{"field":"t","type":"quantitative","scale":{"domain":[-3.7,39],"nice":false,"zero":false},"axis":null},
"y":{"field":"v","type":"quantitative","scale":{"domain":[-80,55],"nice":false,"zero":false},"axis":{"title":"pA","offset":-25.7,"values":[-80,-60,-40,-20,0,20,40],"labelExpr":"datum.value % 40 === 0 ? '' + datum.value : ''","tickSize":{"condition":{"test":"datum.value % 40 === 0","value":11},"value":6},"titleX":-52,"titleY":37}}},
"layer":[
{"data":{"name":"rules"},"transform":[{"filter":"datum.p==='Cs'"}],"mark":{"type":"rule"},"encoding":{"x2":{"field":"t2"},"y2":{"field":"v2"},"color":{"condition":{"test":"datum.k==='ann'","value":"#4d4d4d"},"value":"black"},"strokeWidth":{"condition":{"test":"datum.k==='ann'","value":0.8},"value":1.5},"strokeDash":{"condition":{"test":"datum.k==='zero'","value":[6,4]},"value":[1,0]}}},
{"data":{"name":"boxes"},"transform":[{"filter":"datum.p==='Cs'"}],"mark":{"type":"tick","orient":"vertical","thickness":5.5,"size":14,"color":"#c3c3c3","opacity":1,"stroke":"#9c9c9c","strokeWidth":0.6}},
{"data":{"name":"traces"},"transform":[{"filter":"datum.p==='Cs'"}],"mark":{"type":"line","color":"black","strokeWidth":1.6,"clip":true,"strokeJoin":"round"},"encoding":{"detail":{"field":"s","type":"nominal"}}},
{"data":{"name":"arrows"},"transform":[{"filter":"datum.p==='Cs'"}],"mark":{"type":"trail","color":"black"},"encoding":{"detail":{"field":"id","type":"nominal"},"size":{"condition":{"test":"datum.r==='tip'","value":0},"value":6.5}}},
{"data":{"name":"labels"},"transform":[{"filter":"datum.p==='Cs'"}],"mark":{"type":"text","align":"left","baseline":"alphabetic","color":"black"},"encoding":{"text":{"field":"txt","type":"nominal"},"size":{"condition":[{"test":"datum.k==='title'","value":21},{"test":"datum.k==='letter'","value":22}],"value":20}}}
]}
],"spacing":0,"bounds":"flush"}
],
"spacing":354.3,
"bounds":"flush"
}
